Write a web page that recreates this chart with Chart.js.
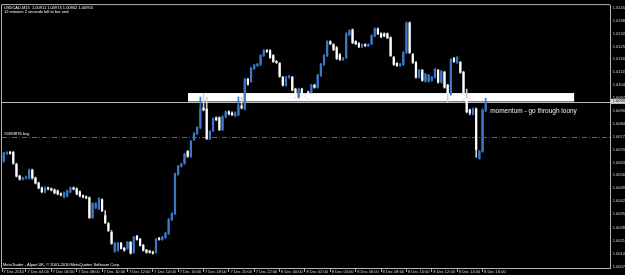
<!DOCTYPE html>
<html><head><meta charset="utf-8">
<script src="https://cdn.jsdelivr.net/npm/chart.js@4.4.1/dist/chart.umd.min.js"></script>
<style>html,body{margin:0;padding:0;background:#000;overflow:hidden}canvas{display:block}</style>
</head><body>
<canvas id="c" width="625" height="275"></canvas>
<script>
const symbolTitle = 'USDCAD,M15  1.00911 1.00974 1.00902 1.00955';
const timerText = '12 minutes 2 seconds left to bar end';
const footerText = 'MetaTrader - Alpari UK, \u00a9 2001-2010 MetaQuotes Software Corp.';
const noteText = 'momentum - go through loony';
const orderText = '#5853876 buy';

// M15 bars, 7 Dec 02:00 .. 8 Dec 16:15
const opens = [1.00648,1.00638,1.00680,1.00686,1.00686,1.00622,1.00559,1.00543,1.00549,1.00549,
1.00591,1.00549,1.00522,1.00496,1.00475,1.00496,1.00491,1.00485,1.00480,1.00464,
1.00448,1.00454,1.00475,1.00496,1.00491,1.00475,1.00454,1.00448,1.00443,1.00338,
1.00391,1.00385,1.00433,1.00348,1.00306,1.00259,1.00159,1.00164,1.00201,1.00174,
1.00174,1.00206,1.00153,1.00238,1.00222,1.00190,1.00164,1.00159,1.00153,1.00153,
1.00227,1.00222,1.00232,1.00254,1.00327,1.00359,1.00570,1.00612,1.00628,1.00691,
1.00665,1.00754,1.00786,1.00817,1.00923,1.00917,1.00759,1.00802,1.00870,1.00870,
1.00807,1.00875,1.00902,1.00896,1.00881,1.00886,1.00933,1.00917,1.01076,1.01065,
1.01134,1.01149,1.01155,1.01202,1.01228,1.01228,1.01202,1.01170,1.01160,1.01086,
1.01044,1.01086,1.01086,1.01023,1.00981,1.01023,1.00991,1.01007,1.01007,1.01044,
1.01033,1.01097,1.01155,1.01202,1.01276,1.01260,1.01244,1.01207,1.01181,1.01192,
1.01313,1.01339,1.01276,1.01265,1.01250,1.01260,1.01255,1.01265,1.01307,1.01344,
1.01318,1.01318,1.01318,1.01297,1.01192,1.01160,1.01149,1.01155,1.01218,1.01376,
1.01207,1.01165,1.01086,1.01123,1.01065,1.01065,1.01070,1.01086,1.01123,1.01060,
1.01113,1.01044,1.00997,1.01186,1.01165,1.01165,1.01113,1.00970,1.00912,1.00891,
1.00917,1.00654,1.00691,1.00911];
const highs = [1.00655,1.00686,1.00690,1.00691,1.00691,1.00628,1.00564,1.00554,1.00559,1.00596,
1.00596,1.00554,1.00527,1.00501,1.00501,1.00501,1.00496,1.00491,1.00485,1.00470,
1.00475,1.00485,1.00501,1.00501,1.00496,1.00480,1.00459,1.00454,1.00448,1.00417,
1.00417,1.00443,1.00438,1.00375,1.00311,1.00269,1.00206,1.00206,1.00206,1.00180,
1.00211,1.00211,1.00238,1.00243,1.00227,1.00195,1.00169,1.00164,1.00159,1.00227,
1.00232,1.00238,1.00259,1.00333,1.00364,1.00575,1.00617,1.00628,1.00680,1.00696,
1.00749,1.00791,1.00823,1.00981,1.00997,1.00981,1.00802,1.00870,1.00875,1.00875,
1.00881,1.00907,1.00907,1.00902,1.00902,1.00981,1.00981,1.01081,1.01081,1.01139,
1.01155,1.01160,1.01207,1.01234,1.01234,1.01234,1.01207,1.01176,1.01165,1.01091,
1.01091,1.01097,1.01091,1.01028,1.01028,1.01028,1.00997,1.01013,1.01049,1.01049,
1.01102,1.01160,1.01207,1.01281,1.01281,1.01265,1.01250,1.01213,1.01192,1.01323,
1.01339,1.01344,1.01281,1.01271,1.01265,1.01265,1.01265,1.01313,1.01350,1.01350,
1.01323,1.01323,1.01323,1.01302,1.01197,1.01165,1.01160,1.01223,1.01381,1.01381,
1.01213,1.01170,1.01128,1.01128,1.01107,1.01102,1.01091,1.01134,1.01128,1.01123,
1.01118,1.01049,1.01186,1.01192,1.01197,1.01170,1.01118,1.01023,1.00917,1.00923,
1.00923,1.00696,1.00917,1.00974];
const lows = [1.00633,1.00633,1.00675,1.00676,1.00622,1.00554,1.00538,1.00538,1.00543,1.00543,
1.00543,1.00517,1.00491,1.00470,1.00470,1.00485,1.00480,1.00464,1.00459,1.00454,
1.00443,1.00448,1.00470,1.00485,1.00459,1.00448,1.00443,1.00438,1.00333,1.00333,
1.00385,1.00380,1.00370,1.00306,1.00264,1.00195,1.00153,1.00159,1.00169,1.00159,
1.00169,1.00143,1.00148,1.00217,1.00185,1.00159,1.00148,1.00148,1.00143,1.00148,
1.00217,1.00217,1.00227,1.00248,1.00322,1.00354,1.00564,1.00607,1.00622,1.00659,
1.00659,1.00749,1.00781,1.00812,1.00907,1.00754,1.00754,1.00796,1.00854,1.00802,
1.00802,1.00870,1.00886,1.00881,1.00875,1.00881,1.00917,1.00912,1.01044,1.01060,
1.01128,1.01144,1.01149,1.01197,1.01218,1.01186,1.01165,1.01160,1.01086,1.01039,
1.01039,1.01081,1.01013,1.00975,1.00975,1.00986,1.00981,1.00970,1.01002,1.01028,
1.01028,1.01091,1.01149,1.01197,1.01260,1.01228,1.01181,1.01176,1.01176,1.01186,
1.01307,1.01265,1.01260,1.01244,1.01244,1.01250,1.01250,1.01260,1.01302,1.01313,
1.01297,1.01302,1.01292,1.01197,1.01149,1.01144,1.01144,1.01149,1.01213,1.01213,
1.01160,1.01081,1.01081,1.01065,1.01060,1.01060,1.01065,1.01081,1.01055,1.01055,
1.01028,1.00954,1.00991,1.01165,1.01160,1.01107,1.00965,1.00896,1.00886,1.00886,
1.00659,1.00649,1.00686,1.00902];
const closes = [1.00638,1.00680,1.00684,1.00680,1.00628,1.00559,1.00543,1.00549,1.00552,1.00591,
1.00549,1.00522,1.00496,1.00475,1.00496,1.00491,1.00485,1.00470,1.00464,1.00459,
1.00470,1.00480,1.00496,1.00491,1.00464,1.00454,1.00448,1.00443,1.00338,1.00412,
1.00412,1.00438,1.00375,1.00311,1.00269,1.00201,1.00201,1.00201,1.00174,1.00164,
1.00206,1.00148,1.00232,1.00222,1.00190,1.00164,1.00153,1.00153,1.00148,1.00222,
1.00222,1.00232,1.00254,1.00327,1.00359,1.00570,1.00612,1.00622,1.00675,1.00665,
1.00744,1.00786,1.00817,1.00917,1.00912,1.00759,1.00796,1.00865,1.00860,1.00807,
1.00875,1.00902,1.00891,1.00886,1.00896,1.00933,1.00923,1.01076,1.01049,1.01134,
1.01149,1.01155,1.01202,1.01228,1.01223,1.01192,1.01170,1.01165,1.01091,1.01044,
1.01086,1.01091,1.01018,1.00981,1.01023,1.00991,1.00986,1.00975,1.01044,1.01033,
1.01097,1.01155,1.01202,1.01276,1.01265,1.01234,1.01186,1.01181,1.01186,1.01318,
1.01334,1.01271,1.01265,1.01250,1.01260,1.01255,1.01260,1.01307,1.01344,1.01318,
1.01302,1.01307,1.01297,1.01202,1.01155,1.01149,1.01155,1.01218,1.01376,1.01218,
1.01165,1.01086,1.01123,1.01070,1.01102,1.01097,1.01086,1.01128,1.01060,1.01118,
1.01033,1.00997,1.01181,1.01170,1.01192,1.01113,1.00970,1.00902,1.00896,1.00917,
1.00701,1.00691,1.00912,1.00955];

const timeLabels = ['7 Dec 2010','7 Dec 04:00','7 Dec 06:00','7 Dec 08:00','7 Dec 10:00','7 Dec 12:00',
'7 Dec 14:00','7 Dec 16:00','7 Dec 18:00','7 Dec 20:00','7 Dec 22:00','8 Dec 00:00','8 Dec 02:00',
'8 Dec 04:00','8 Dec 06:00','8 Dec 08:00','8 Dec 10:00','8 Dec 12:00','8 Dec 14:00','8 Dec 16:00'];
const barsPerLabel = 8;
const priceTicks = [1.01455,1.01385,1.01320,1.01250,1.01185,1.01115,1.01045,1.00975,1.00905,1.00840,
1.00770,1.00700,1.00630,1.00565,1.00495,1.00425,1.00355,1.00285,1.00215,1.00145,1.00075];

const bidPrice = 1.00955;
const orderPrice = 1.00766;
const zoneFromBar = 59.1, zoneToBar = 180.9, zoneTop = 1.01002, zoneBottom = 1.00957;
const noteBar = 154.4, notePrice = 1.00904;

const UP = '#3b78c8', DOWN = '#ffffff', WICK_DN = '#cfcfcf';
const FONT = 'Liberation Sans, Arial, sans-serif';

const up = opens.map((o, i) => closes[i] >= o);
const bodies = opens.map((o, i) => ({x: i, y: [o, closes[i]]}));
const wicks = opens.map((o, i) => ({x: i, y: [lows[i], highs[i]]}));
const tickBars = timeLabels.map((_, k) => k * barsPerLabel);

const overlay = {
  id: 'overlay',
  beforeDraw(chart) {
    const ctx = chart.ctx;
    ctx.save(); ctx.fillStyle = '#000'; ctx.fillRect(0, 0, chart.width, chart.height); ctx.restore();
  },
  beforeDatasetsDraw(chart) {
    const {ctx, chartArea: a, scales: {x, y}} = chart;
    ctx.save();
    ctx.beginPath(); ctx.rect(a.left, a.top, a.right - a.left, a.bottom - a.top); ctx.clip();
    const oy = Math.round(y.getPixelForValue(orderPrice)) + 0.5;
    ctx.strokeStyle = '#3f7f3f'; ctx.lineWidth = 1; ctx.setLineDash([5, 2, 1, 2]);
    ctx.beginPath(); ctx.moveTo(a.left, oy); ctx.lineTo(a.right, oy); ctx.stroke();
    ctx.setLineDash([]);
    const by = Math.round(y.getPixelForValue(bidPrice)) + 0.5;
    ctx.strokeStyle = '#c0c0c0';
    ctx.beginPath(); ctx.moveTo(a.left, by); ctx.lineTo(a.right, by); ctx.stroke();
    const x1 = x.getPixelForValue(zoneFromBar), x2 = x.getPixelForValue(zoneToBar);
    const y1 = y.getPixelForValue(zoneTop), y2 = y.getPixelForValue(zoneBottom);
    ctx.fillStyle = '#ffffff';
    ctx.fillRect(x1, y1, x2 - x1, y2 - y1);
    ctx.restore();
  },
  afterDraw(chart) {
    const {ctx, chartArea: a, scales: {x, y}} = chart;
    ctx.save();
    ctx.strokeStyle = '#b4b4b4'; ctx.lineWidth = 1;
    ctx.beginPath();
    ctx.moveTo(a.left - 0.5, a.bottom); ctx.lineTo(a.left - 0.5, a.top - 0.5); ctx.lineTo(a.right, a.top - 0.5);
    ctx.stroke();
    ctx.fillStyle = '#ffffff';
    ctx.textBaseline = 'middle'; ctx.textAlign = 'left';
    ctx.font = '4px ' + FONT;
    ctx.fillText(symbolTitle, a.left + 2, a.top + 2.8);
    ctx.fillText(timerText, a.left + 2, a.top + 6.3);
    ctx.fillText(footerText, a.left + 1, a.bottom - 3.5);
    const oy = y.getPixelForValue(orderPrice);
    ctx.textBaseline = 'bottom';
    ctx.fillText(orderText, a.left + 2, oy - 1.5);
    ctx.font = '6.5px ' + FONT;
    ctx.textBaseline = 'middle';
    ctx.fillStyle = '#eeeeee';
    ctx.fillText(noteText, x.getPixelForValue(noteBar), y.getPixelForValue(notePrice));
    const by = y.getPixelForValue(bidPrice);
    ctx.fillStyle = '#d8d8d8';
    ctx.fillRect(a.right + 1, by - 3, chart.width - a.right, 5);
    ctx.fillStyle = '#000';
    ctx.font = '4px ' + FONT;
    ctx.fillText(bidPrice.toFixed(5), a.right + 2.7, by - 0.5);
    ctx.restore();
  }
};

new Chart(document.getElementById('c'), {
  type: 'bar',
  data: {
    datasets: [
      {label: 'body', data: bodies, grouped: false, barThickness: 1.6, minBarLength: 1,
       backgroundColor: c => up[c.dataIndex] ? UP : DOWN, borderWidth: 0},
      {label: 'wick', data: wicks, grouped: false, barThickness: 1, minBarLength: 1,
       backgroundColor: c => up[c.dataIndex] ? UP : WICK_DN, borderWidth: 0}
    ]
  },
  options: {
    responsive: false, devicePixelRatio: 1, animation: false,
    layout: {padding: {left: 2, top: 2, right: 0, bottom: 0}},
    plugins: {legend: {display: false}, tooltip: {enabled: false}, title: {display: false}},
    scales: {
      x: {
        type: 'linear', min: 0.44, max: 192.2, offset: false,
        grid: {display: true, offset: false, drawOnChartArea: false, drawTicks: true, tickLength: 4, color: '#a0a0a0'},
        border: {display: true, color: '#b4b4b4'},
        afterBuildTicks: s => { s.ticks = tickBars.map(v => ({value: Math.max(v, s.min)})); },
        afterFit: s => { s.height = 7; },
        ticks: {autoSkip: false, maxRotation: 0, minRotation: 0, align: 'start', labelOffset: 1.5, padding: -3,
          color: '#d8d8d8', font: {size: 4, family: FONT}, callback: (v, i) => timeLabels[i]}
      },
      y: {
        position: 'right', min: 1.00069, max: 1.01471,
        grid: {display: false, drawTicks: false},
        border: {display: true, color: '#b4b4b4'},
        afterBuildTicks: s => { s.ticks = priceTicks.map(v => ({value: v})); },
        afterFit: s => { s.width = 15; },
        ticks: {padding: 2.7, color: '#d8d8d8', font: {size: 4, family: FONT}, callback: v => Number(v).toFixed(5)}
      }
    }
  },
  plugins: [overlay]
});
</script>
</body></html>
